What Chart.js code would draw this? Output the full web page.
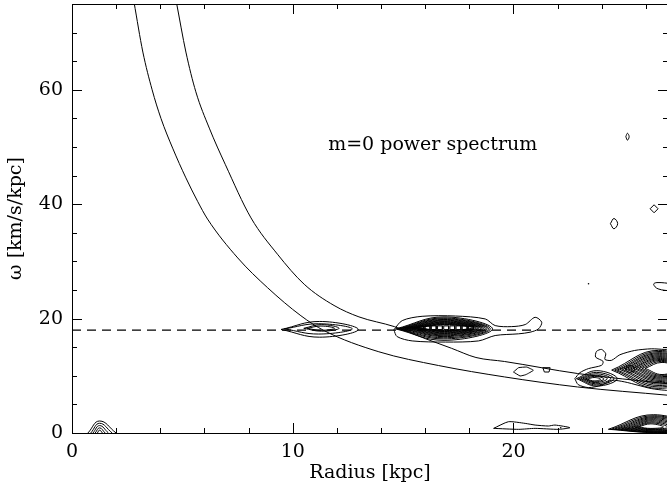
<!DOCTYPE html>
<html><head><meta charset="utf-8">
<script src="https://cdn.jsdelivr.net/npm/chart.js@4"></script>
<style>
html,body{margin:0;padding:0;background:#fff;overflow:hidden;}
canvas{display:block;}
</style></head>
<body><canvas id="c" width="672" height="487"></canvas>
<script>
// ---------- data ----------
const xTickLabels = [0, 10, 20];
const yTickLabels = [0, 20, 40, 60];
const xRange = [0, 27];
const yRange = [0, 75];
const xTitle = 'Radius [kpc]';
const yTitle = 'ω [km/s/kpc]';
const annotationText = 'm=0 power spectrum';
const annotationPos = [16.34, 50.4];
const patternSpeed = 18;            // dashed horizontal line

// lower resonance curve
const curveA_R = [2.81, 3.21, 3.63, 4.03, 4.56, 5.16, 5.69, 6.14, 7.51, 8.86, 10.37, 11.42, 13.9, 16.6, 19.6, 22.9, 27.0];
const curveA_W = [75.3, 66.6, 60.0, 55.0, 49.8, 44.6, 40.5, 37.4, 30.6, 25.4, 20.5, 17.9, 14.2, 11.8, 9.8, 8.05, 6.6];
// upper resonance curve
const curveB_R = [4.73, 5.16, 5.61, 6.22, 6.95, 8.11, 9.31, 10.52, 11.87, 13.0, 14.6, 16.0, 17.2, 18.3, 19.6, 22.9, 27.0];
const curveB_W = [75.3, 66.6, 59.65, 53.3, 46.9, 37.6, 31.25, 26.0, 22.3, 20.3, 18.6, 16.5, 14.8, 13.2, 12.5, 10.4, 8.6];

// nested contour rings: [left R, right R, bottom w, top w, w of side tips]
const ringsNear11 = [
  [9.47, 12.97, 16.75, 19.5, 18.1],
  [9.62, 12.70, 17.30, 19.1, 18.2],
  [10.50, 12.10, 17.80, 18.95, 18.3],
  [10.65, 11.90, 17.95, 18.70, 18.3]
];
const outerNear16_R = [14.58, 14.96, 15.86, 17.37, 18.72, 19.17, 19.92, 20.53, 20.98, 21.28, 21.13, 20.75, 20.23, 19.17, 18.42, 16.92, 15.41, 14.73, 14.58];
const outerNear16_W = [18.03, 19.65, 20.40, 20.45, 19.94, 18.78, 18.60, 18.96, 20.23, 19.36, 18.20, 17.62, 17.34, 17.04, 16.10, 15.90, 16.10, 16.85, 18.03];
const ringsNear16 = [
  [14.66, 19.05, 16.20, 20.30, 18.2],
  [14.74, 18.95, 16.45, 20.12, 18.2],
  [14.82, 18.87, 16.65, 19.98, 18.2],
  [14.90, 18.80, 16.85, 19.85, 18.25],
  [14.98, 18.72, 17.00, 19.72, 18.25],
  [15.06, 18.64, 17.15, 19.60, 18.3],
  [15.14, 18.58, 17.28, 19.48, 18.3],
  [15.22, 18.52, 17.40, 19.38, 18.3],
  [15.30, 18.45, 17.52, 19.28, 18.35],
  [15.38, 18.38, 17.63, 19.18, 18.35],
  [15.46, 18.30, 17.74, 19.08, 18.35],
  [15.54, 18.22, 17.84, 18.98, 18.4],
  [15.62, 18.14, 17.92, 18.90, 18.4]
];
// row of small innermost loops of the main peak: left R of each, shared width and w range
const ladderLeftR = [15.72, 16.00, 16.28, 16.56, 16.84, 17.12, 17.40, 17.68, 17.96];
const ladderWidth = 0.22;
const ladderW = [18.08, 18.72];
const outerRight_R = [22.78, 23.01, 23.39, 23.99, 24.06, 23.72, 23.76, 23.99, 24.18, 24.14, 24.44, 24.82, 25.49, 26.24, 26.86, 27.6, 27.6, 26.86, 26.24, 25.64, 25.04, 24.44, 23.99, 23.39, 22.93, 22.78];
const outerRight_W = [9.51, 10.55, 11.25, 11.83, 12.52, 13.27, 14.26, 14.61, 13.86, 12.87, 12.70, 13.68, 14.43, 14.72, 14.61, 14.6, 7.5, 7.48, 7.77, 8.35, 8.93, 9.22, 8.35, 7.94, 8.46, 9.51];
const ringsLeftLobe = [
  [22.85, 24.70, 8.20, 10.90, 9.5],
  [22.95, 24.55, 8.40, 10.60, 9.5],
  [23.05, 24.40, 8.60, 10.35, 9.5],
  [23.15, 24.25, 8.80, 10.10, 9.5],
  [23.25, 24.10, 8.95, 9.90, 9.45],
  [23.35, 23.95, 9.10, 9.70, 9.4]
];
const ringsRightLobe = [
  [24.45, 28.7, 7.80, 14.45, 11.0],
  [24.58, 28.6, 8.05, 14.25, 11.0],
  [24.70, 28.5, 8.30, 14.05, 11.0],
  [24.82, 28.4, 8.55, 13.88, 11.1],
  [24.94, 28.3, 8.78, 13.70, 11.1],
  [25.06, 28.2, 9.00, 13.52, 11.2],
  [25.18, 28.1, 9.20, 13.35, 11.2],
  [25.30, 28.0, 9.40, 13.18, 11.2],
  [25.42, 27.9, 9.58, 13.02, 11.3],
  [25.55, 27.8, 9.75, 12.86, 11.3],
  [25.68, 27.7, 9.92, 12.70, 11.3],
  [25.82, 27.6, 10.08, 12.52, 11.3],
  [25.96, 27.5, 10.22, 12.34, 11.3],
  [25.05, 25.50, 10.60, 11.80, 11.2]
];
const ringsBottomRight = [
  [24.30, 28.4, 0.10, 3.20, 0.65],
  [24.45, 28.3, 0.13, 3.02, 0.68],
  [24.60, 28.2, 0.16, 2.85, 0.72],
  [24.75, 28.0, 0.22, 2.68, 0.76],
  [24.90, 27.8, 0.30, 2.50, 0.80],
  [25.05, 27.6, 0.40, 2.32, 0.85],
  [25.20, 27.4, 0.50, 2.14, 0.90],
  [25.35, 27.2, 0.60, 1.96, 0.95],
  [25.50, 27.0, 0.70, 1.78, 1.00],
  [25.65, 26.8, 0.80, 1.60, 1.05]
];
// arches on the axis near the origin: [left R, peak R, right R, peak w]
const archesOrigin = [
  [0.72, 1.25, 2.00, 2.1],
  [0.85, 1.25, 1.82, 1.7],
  [0.95, 1.25, 1.65, 1.3],
  [1.05, 1.25, 1.50, 0.9],
  [1.15, 1.25, 1.38, 0.5]
];
// single loops
const loopBottom_R = [19.10, 19.77, 20.53, 20.98, 21.58, 21.88, 22.56, 22.03, 20.98, 20.23, 19.10];
const loopBottom_W = [0.81, 1.97, 1.68, 1.39, 1.22, 1.39, 0.93, 0.64, 0.81, 0.64, 0.81];
const loopA_R = [20.00, 20.23, 20.60, 20.90, 20.56, 20.30, 20.00];
const loopA_W = [10.66, 11.42, 11.53, 10.96, 10.20, 9.97, 10.66];
const loopB_R = [21.33, 21.66, 21.61, 21.40, 21.33];
const loopB_W = [11.42, 11.42, 10.66, 10.66, 11.42];
const loopC_R = [25.09, 25.16, 25.24, 25.16, 25.09];
const loopC_W = [51.8, 52.4, 51.8, 51.2, 51.8];
const loopD_R = [24.39, 24.55, 24.72, 24.55, 24.39];
const loopD_W = [36.6, 37.5, 36.6, 35.7, 36.6];
const loopE_R = [26.19, 26.37, 26.55, 26.37, 26.19];
const loopE_W = [39.2, 39.9, 39.2, 38.5, 39.2];
const loopF_R = [27.2, 26.5, 26.35, 26.55, 27.2];
const loopF_W = [26.1, 26.3, 26.0, 25.2, 24.8];
const dots_R = [23.4, 22.14];
const dots_W = [26.1, 0.93];

// ---------- building datasets ----------
const zip = (xs, ys) => xs.map((x, i) => ({x, y: ys[i]}));
const ringPts = r => {
  const [l, rr, b, t, yt] = r;
  const ym = yt !== undefined ? yt : (b + t) / 2;
  const xm = (l + rr) / 2;
  return [{x:l, y:ym}, {x:xm, y:t}, {x:rr, y:ym}, {x:xm, y:b}, {x:l, y:ym}];
};
const archPts = a => [{x:a[0], y:0}, {x:a[1], y:a[3]}, {x:a[2], y:0}];
const boxPts = (l, w, y0, y1) => [{x:l, y:y0}, {x:l, y:y1}, {x:l + w, y:y1}, {x:l + w, y:y0}, {x:l, y:y0}];
const line = (data, extra) => Object.assign({
  data, showLine: true, borderColor: '#000', borderWidth: 1, pointRadius: 0,
  tension: 0, fill: false
}, extra || {});

const datasets = [];
datasets.push(line(zip(curveA_R, curveA_W), {cubicInterpolationMode: 'monotone'}));
datasets.push(line(zip(curveB_R, curveB_W), {cubicInterpolationMode: 'monotone'}));
datasets.push(line([{x: xRange[0], y: patternSpeed}, {x: xRange[1], y: patternSpeed}], {borderDash: [9, 6], borderWidth: 1.2}));
[ringsNear11, ringsNear16, ringsLeftLobe, ringsRightLobe, ringsBottomRight].forEach(set =>
  set.forEach(r => datasets.push(line(ringPts(r), {tension: 0.42}))));
ladderLeftR.forEach(l => datasets.push(line(boxPts(l, ladderWidth, ladderW[0], ladderW[1]))));
archesOrigin.forEach(a => datasets.push(line(archPts(a), {tension: 0.45})));
[[outerNear16_R, outerNear16_W, 0.3], [outerRight_R, outerRight_W, 0.25], [loopBottom_R, loopBottom_W, 0.2],
 [loopA_R, loopA_W, 0.1], [loopB_R, loopB_W, 0], [loopC_R, loopC_W, 0.4], [loopD_R, loopD_W, 0.4],
 [loopE_R, loopE_W, 0], [loopF_R, loopF_W, 0.4]].forEach(([xs, ys, t]) =>
  datasets.push(line(zip(xs, ys), {tension: t})));
datasets.push({data: zip(dots_R, dots_W), showLine: false, pointRadius: 0.8, pointBackgroundColor: '#000', pointBorderWidth: 0});

// ---------- frame, inward ticks, annotation ----------
const FONT = '"DejaVu Serif", serif';
const framePlugin = {
  id: 'frame',
  afterDatasetsDraw(chart) {
    const {ctx, chartArea: a, scales: {x, y}} = chart;
    ctx.save();
    ctx.strokeStyle = '#000';
    ctx.lineWidth = 1;
    ctx.strokeRect(a.left + 0.5, a.top + 0.5, a.right - a.left, a.bottom - a.top);
    ctx.beginPath();
    for (let v = xRange[0]; v <= xRange[1] + 1e-9; v += 2) {
      const p = Math.round(x.getPixelForValue(v)) + 0.5;
      const L = v % 10 === 0 ? 10 : 5;
      ctx.moveTo(p, a.bottom); ctx.lineTo(p, a.bottom - L);
      ctx.moveTo(p, a.top); ctx.lineTo(p, a.top + L);
    }
    for (let v = yRange[0]; v <= yRange[1] + 1e-9; v += 5) {
      const p = Math.round(y.getPixelForValue(v)) + 0.5;
      const L = v % 20 === 0 ? 10 : 5;
      ctx.moveTo(a.left, p); ctx.lineTo(a.left + L, p);
      ctx.moveTo(a.right, p); ctx.lineTo(a.right - L, p);
    }
    ctx.stroke();
    ctx.fillStyle = '#000';
    ctx.font = '19px ' + FONT;
    ctx.textAlign = 'center';
    ctx.textBaseline = 'middle';
    ctx.fillText(annotationText, x.getPixelForValue(annotationPos[0]), y.getPixelForValue(annotationPos[1]));
    ctx.restore();
  }
};

const noPad = s => { s.paddingTop = 0; s.paddingBottom = 0; s.paddingLeft = 0; s.paddingRight = 0; };

new Chart(document.getElementById('c'), {
  type: 'scatter',
  data: {datasets},
  options: {
    responsive: false,
    animation: false,
    devicePixelRatio: 1,
    layout: {padding: {left: 0, right: 3, top: 2, bottom: 0}},
    plugins: {legend: {display: false}, tooltip: {enabled: false}},
    scales: {
      x: {
        type: 'linear', min: xRange[0], max: xRange[1],
        afterBuildTicks: s => { s.ticks = xTickLabels.map(v => ({value: v})); },
        afterFit: s => { s.height = 54; noPad(s); },
        grid: {display: false, drawTicks: false},
        border: {display: false},
        ticks: {color: '#000', font: {family: FONT, size: 19}, padding: 8, maxRotation: 0},
        title: {display: true, text: xTitle, color: '#000', font: {family: FONT, size: 19}, padding: {top: 0, bottom: 3}}
      },
      y: {
        type: 'linear', min: yRange[0], max: yRange[1],
        afterBuildTicks: s => { s.ticks = yTickLabels.map(v => ({value: v})); },
        afterFit: s => { s.width = 72; noPad(s); },
        grid: {display: false, drawTicks: false},
        border: {display: false},
        ticks: {color: '#000', font: {family: FONT, size: 19}, padding: 9},
        title: {display: true, text: yTitle, color: '#000', font: {family: FONT, size: 19}, padding: {top: 5, bottom: 0}}
      }
    }
  },
  plugins: [framePlugin]
});
</script>
</body></html>
